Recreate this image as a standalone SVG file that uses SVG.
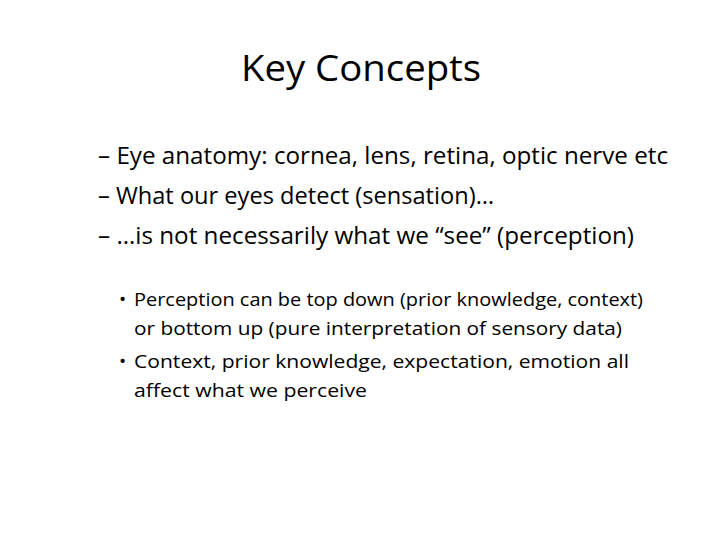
<svg xmlns="http://www.w3.org/2000/svg" width="720" height="540" viewBox="0 0 720 540">
<style>
text{font-family:"Open Sans","Liberation Sans",sans-serif;fill:#000}
.t{font-size:36px}
.a{font-size:23px}
.b{font-size:19px}
</style>
<rect width="720" height="540" fill="#fff"/>
<text class="t" x="241" y="81" textLength="240" lengthAdjust="spacingAndGlyphs">Key Concepts</text>
<text class="a" x="98" y="164" textLength="570" lengthAdjust="spacingAndGlyphs">– Eye anatomy: cornea, lens, retina, optic nerve etc</text>
<text class="a" x="98" y="204" textLength="396" lengthAdjust="spacingAndGlyphs">– What our eyes detect (sensation)…</text>
<text class="a" x="98" y="244" textLength="536" lengthAdjust="spacingAndGlyphs">– …is not necessarily what we “see” (perception)</text>
<text class="b" x="119" y="306">•</text>
<text class="b" x="134" y="306" textLength="509" lengthAdjust="spacingAndGlyphs">Perception can be top down (prior knowledge, context)</text>
<text class="b" x="134" y="335" textLength="488" lengthAdjust="spacingAndGlyphs">or bottom up (pure interpretation of sensory data)</text>
<text class="b" x="119" y="368">•</text>
<text class="b" x="134" y="368" textLength="495" lengthAdjust="spacingAndGlyphs">Context, prior knowledge, expectation, emotion all</text>
<text class="b" x="134" y="397" textLength="233" lengthAdjust="spacingAndGlyphs">affect what we perceive</text>
</svg>
